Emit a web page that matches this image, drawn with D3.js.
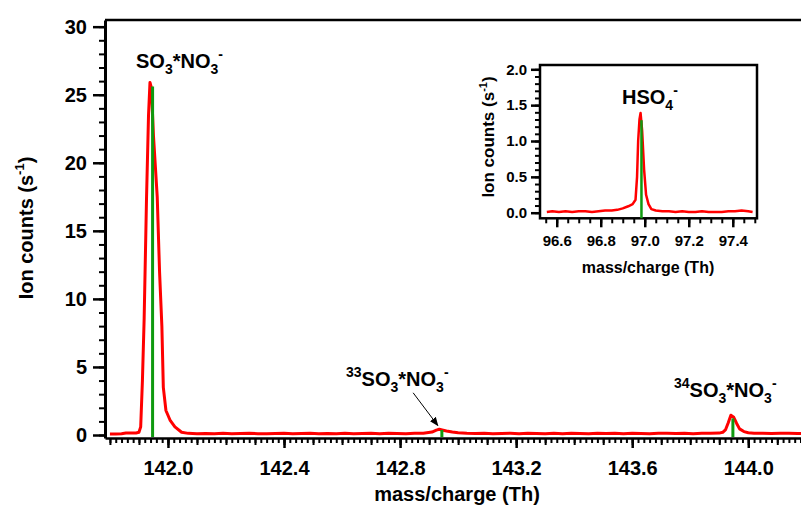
<!DOCTYPE html>
<html><head><meta charset="utf-8">
<script src="https://cdn.jsdelivr.net/npm/d3@7"></script>
<style>
html,body{margin:0;padding:0;background:#fff;overflow:hidden}
svg text{font-family:Arial,"Liberation Sans",sans-serif;font-weight:bold;fill:#000}
</style></head>
<body>
<svg id="c" width="801" height="505"></svg>
<script>
// ---------- DATA ----------
const mainMz = [141.80,141.82,141.84,141.855,141.87,141.89,141.90,141.906,141.912,141.918,141.926,141.933,141.938,141.943,141.950,141.963,141.971,141.979,141.984,141.993,142.007,142.024,142.047,142.07,
142.10,142.13,142.16,142.19,142.22,142.25,142.28,142.31,142.34,142.37,142.40,142.43,142.46,142.49,142.52,142.55,142.58,142.61,142.64,142.67,142.70,142.73,142.76,142.79,142.82,142.85,142.88,
142.91,142.925,142.935,142.945,142.96,142.98,143.00,143.03,143.06,143.09,143.12,143.15,143.18,143.21,143.24,143.27,143.30,143.33,143.36,143.39,143.42,143.45,143.48,143.51,143.54,143.57,143.60,143.63,143.66,143.69,143.72,143.75,143.78,143.81,143.84,143.87,143.90,
143.912,143.922,143.931,143.940,143.950,143.960,143.970,143.985,144.00,144.02,144.05,144.08,144.11,144.14,144.17,144.20];
const mainCounts = [0.08,0.08,0.09,0.14,0.14,0.15,0.2,0.6,4.0,8.6,17.3,23.5,25.9,25.5,22.0,17.5,12.0,8.0,3.5,1.8,1.1,0.6,0.2,0.12,
0.10,0.11,0.09,0.12,0.10,0.11,0.13,0.10,0.09,0.11,0.12,0.10,0.11,0.13,0.10,0.11,0.09,0.12,0.10,0.11,0.13,0.10,0.12,0.11,0.10,0.12,0.13,
0.22,0.36,0.42,0.37,0.30,0.22,0.17,0.13,0.11,0.12,0.10,0.11,0.13,0.10,0.12,0.11,0.09,0.12,0.10,0.13,0.11,0.10,0.12,0.11,0.13,0.10,0.12,0.11,0.10,0.12,0.13,0.11,0.12,0.10,0.12,0.13,0.14,
0.2,0.4,0.9,1.45,1.3,0.85,0.45,0.25,0.17,0.13,0.12,0.11,0.13,0.12,0.11,0.12];
const stickMz = [141.947, 142.944, 143.947];
const stickCounts = [25.6, 0.37, 1.22];
const mainXTicks = [142.0, 142.4, 142.8, 143.2, 143.6, 144.0];
const mainYTicks = [0, 5, 10, 15, 20, 25, 30];

const insetMz = [96.555,96.58,96.61,96.64,96.67,96.70,96.73,96.76,96.79,96.82,96.85,96.875,96.90,96.925,96.945,96.958,96.965,96.970,96.976,96.981,96.988,96.997,97.006,97.017,97.03,97.05,97.08,97.11,97.14,97.17,97.20,97.23,97.26,97.29,97.32,97.35,97.38,97.41,97.44,97.47,97.49];
const insetCounts = [0.01,0.02,0.01,0.02,0.01,0.02,0.02,0.01,0.02,0.03,0.03,0.04,0.06,0.09,0.12,0.18,0.5,1.0,1.3,1.39,1.15,0.6,0.25,0.12,0.05,0.03,0.02,0.02,0.01,0.02,0.01,0.01,0.02,0.01,0.01,0.01,0.02,0.02,0.03,0.02,0.01];
const insetStickMz = [96.985];
const insetStickCounts = [1.29];
const insetXTicks = [96.6, 96.8, 97.0, 97.2, 97.4];
const insetYTicks = [0, 0.5, 1.0, 1.5, 2.0];

// ---------- SCALES ----------
const svg = d3.select("#c");
const x = d3.scaleLinear().domain([141.783, 144.2]).range([105, 806.3]);
const y = d3.scaleLinear().domain([-0.22, 30.49]).range([438, 20]);
const xi = d3.scaleLinear().domain([96.524, 97.51]).range([540, 757]);
const yi = d3.scaleLinear().domain([-0.078, 2.06]).range([218.3, 65]);

function rangeTicks(a, b, step){ const out=[]; const n=Math.round((b-a)/step); for(let i=0;i<=n;i++) out.push(+(a+i*step).toFixed(4)); return out; }
const FONT = 'Arial,"Liberation Sans",sans-serif';

// ---------- MAIN AXES ----------
const gm = svg.append("g");
gm.append("line").attr("x1", x.range()[0]).attr("x2", 801).attr("y1", y.range()[1]).attr("y2", y.range()[1])
  .attr("stroke","#000").attr("stroke-width",2.5);

function styleAxis(g, w){ g.select(".domain").attr("stroke","#000").attr("stroke-width",w); g.selectAll(".tick line").attr("stroke","#000").attr("stroke-width",2); }

const xMinor = rangeTicks(141.80, 144.18, 0.02);
const xMed = rangeTicks(141.8, 144.1, 0.1);
gm.append("g").attr("transform",`translate(0,${y.range()[0]})`)
  .call(d3.axisBottom(x).tickValues(xMinor).tickSize(5).tickSizeOuter(0).tickFormat(""))
  .call(g=>styleAxis(g,2.5));
gm.append("g").attr("transform",`translate(0,${y.range()[0]})`)
  .call(d3.axisBottom(x).tickValues(xMed).tickSize(7).tickSizeOuter(0).tickFormat(""))
  .call(g=>{g.select(".domain").remove(); g.selectAll(".tick line").attr("stroke","#000").attr("stroke-width",2);});
gm.append("g").attr("transform",`translate(0,${y.range()[0]})`)
  .call(d3.axisBottom(x).tickValues(mainXTicks).tickSize(10).tickSizeOuter(0).tickPadding(13).tickFormat(d3.format(".1f")))
  .call(g=>{g.select(".domain").remove(); g.selectAll(".tick line").attr("stroke","#000").attr("stroke-width",2.5);
    g.selectAll("text").attr("font-size",20).attr("fill","#000").style("font-family",FONT);});

const yMinor = rangeTicks(0, 30, 1);
gm.append("g").attr("transform",`translate(${x.range()[0]},0)`)
  .call(d3.axisLeft(y).tickValues(yMinor).tickSize(6).tickSizeOuter(0).tickFormat(""))
  .call(g=>styleAxis(g,3));
gm.append("g").attr("transform",`translate(${x.range()[0]},0)`)
  .call(d3.axisLeft(y).tickValues(mainYTicks).tickSize(12).tickSizeOuter(0).tickPadding(6).tickFormat(d3.format("d")))
  .call(g=>{g.select(".domain").remove(); g.selectAll(".tick line").attr("stroke","#000").attr("stroke-width",2.5);
    g.selectAll("text").attr("font-size",20).attr("fill","#000").style("font-family",FONT);});

// ---------- MAIN DATA ----------
const mainLine = d3.line().x((d,i)=>x(mainMz[i])).y((d,i)=>y(mainCounts[i]));
gm.append("path").datum(mainCounts).attr("d", mainLine).attr("fill","none")
  .attr("stroke","#ff0000").attr("stroke-width",3).attr("stroke-linejoin","round");
gm.selectAll(".stick").data(stickMz).join("line").attr("class","stick")
  .attr("x1",d=>x(d)).attr("x2",d=>x(d)).attr("y1",y(0)+2).attr("y2",(d,i)=>y(stickCounts[i]))
  .attr("stroke","#0f9a0f").attr("stroke-width",3);

// ---------- RICH TEXT HELPER ----------
function rich(g, px, py, parts, size){
  const t = g.append("text").attr("x",px).attr("y",py).attr("font-size",size);
  let shift = 0;
  parts.forEach(p=>{
    let target = 0, fs = size;
    if(p[1]==="sub"){ target = size*0.28; fs = size*0.7; }
    if(p[1]==="sup"){ target = -size*0.45; fs = size*0.7; }
    t.append("tspan").attr("dy", target - shift).attr("font-size", fs).text(p[0]);
    shift = target;
  });
  return t;
}

rich(gm, 136, 68, [["SO"],["3","sub"],["*NO"],["3","sub"],["-","sup"]], 20);
rich(gm, 346, 386, [["33","sup"],["SO"],["3","sub"],["*NO"],["3","sub"],["-","sup"]], 20);
rich(gm, 674, 397, [["34","sup"],["SO"],["3","sub"],["*NO"],["3","sub"],["-","sup"]], 20);

// arrow
const defs = svg.append("defs");
defs.append("marker").attr("id","ah").attr("viewBox","0 0 10 10").attr("refX",9).attr("refY",5)
  .attr("markerWidth",9).attr("markerHeight",9).attr("markerUnits","userSpaceOnUse").attr("orient","auto")
  .append("path").attr("d","M0,1 L10,5 L0,9 Z").attr("fill","#000");
gm.append("line").attr("x1",x(142.845)).attr("y1",y(3.1)).attr("x2",x(142.93)).attr("y2",y(0.7))
  .attr("stroke","#000").attr("stroke-width",1).attr("marker-end","url(#ah)");

// axis titles
const yt = gm.append("text").attr("transform","translate(33,228) rotate(-90)").attr("text-anchor","middle").attr("font-size",20);
yt.append("tspan").text("Ion counts (s");
yt.append("tspan").attr("dy",-9).attr("font-size",13).text("-1");
yt.append("tspan").attr("dy",9).text(")");
gm.append("text").attr("x",457).attr("y",501).attr("text-anchor","middle").attr("font-size",20).text("mass/charge (Th)");

// ---------- INSET ----------
const gi = svg.append("g");
gi.append("rect").attr("x",xi.range()[0]).attr("y",yi.range()[1]).attr("width",xi.range()[1]-xi.range()[0])
  .attr("height",yi.range()[0]-yi.range()[1]).attr("fill","#fff").attr("stroke","#000").attr("stroke-width",2.5);

const ixMinor = rangeTicks(96.55, 97.5, 0.05);
gi.append("g").attr("transform",`translate(0,${yi.range()[0]})`)
  .call(d3.axisBottom(xi).tickValues(ixMinor).tickSize(5).tickSizeOuter(0).tickFormat(""))
  .call(g=>{g.select(".domain").remove(); g.selectAll(".tick line").attr("stroke","#000").attr("stroke-width",2);});
gi.append("g").attr("transform",`translate(0,${yi.range()[0]})`)
  .call(d3.axisBottom(xi).tickValues(insetXTicks).tickSize(9).tickSizeOuter(0).tickPadding(8).tickFormat(d3.format(".1f")))
  .call(g=>{g.select(".domain").remove(); g.selectAll(".tick line").attr("stroke","#000").attr("stroke-width",2.5);
    g.selectAll("text").attr("font-size",15).attr("fill","#000").style("font-family",FONT);});
const iyMinor = rangeTicks(0, 2.0, 0.1);
gi.append("g").attr("transform",`translate(${xi.range()[0]},0)`)
  .call(d3.axisLeft(yi).tickValues(iyMinor).tickSize(5).tickSizeOuter(0).tickFormat(""))
  .call(g=>{g.select(".domain").remove(); g.selectAll(".tick line").attr("stroke","#000").attr("stroke-width",2);});
gi.append("g").attr("transform",`translate(${xi.range()[0]},0)`)
  .call(d3.axisLeft(yi).tickValues(insetYTicks).tickSize(9).tickSizeOuter(0).tickPadding(4).tickFormat(d3.format(".1f")))
  .call(g=>{g.select(".domain").remove(); g.selectAll(".tick line").attr("stroke","#000").attr("stroke-width",2.5);
    g.selectAll("text").attr("font-size",15).attr("fill","#000").style("font-family",FONT);});

const insetLine = d3.line().x((d,i)=>xi(insetMz[i])).y((d,i)=>yi(insetCounts[i]));
gi.append("path").datum(insetCounts).attr("d", insetLine).attr("fill","none")
  .attr("stroke","#ff0000").attr("stroke-width",2.5).attr("stroke-linejoin","round");
gi.selectAll(".istick").data(insetStickMz).join("line").attr("class","istick")
  .attr("x1",d=>xi(d)).attr("x2",d=>xi(d)).attr("y1",yi.range()[0]).attr("y2",(d,i)=>yi(insetStickCounts[i]))
  .attr("stroke","#0f9a0f").attr("stroke-width",2.5);

rich(gi, 622, 104, [["HSO"],["4","sub"],["-","sup"]], 20);

const iyt = gi.append("text").attr("transform","translate(494,137) rotate(-90)").attr("text-anchor","middle").attr("font-size",17);
iyt.append("tspan").text("Ion counts (s");
iyt.append("tspan").attr("dy",-7).attr("font-size",11).text("-1");
iyt.append("tspan").attr("dy",7).text(")");
gi.append("text").attr("x",648).attr("y",273).attr("text-anchor","middle").attr("font-size",16).text("mass/charge (Th)");
</script>
</body></html>
